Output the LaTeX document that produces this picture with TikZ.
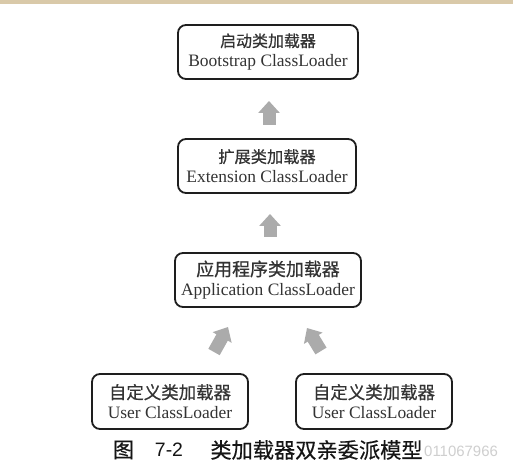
\documentclass[tikz,border=0pt]{standalone}
\usepackage{fontspec}
\setmainfont{Liberation Serif}
\newfontfamily\cjk[FakeBold=0.6]{Noto Sans CJK SC}
\newfontfamily\cjkcap[FakeBold=0.4]{Noto Sans CJK SC}
\newfontfamily\capsans{Liberation Sans}
\usetikzlibrary{arrows.meta,calc}
\definecolor{boxline}{HTML}{1E1E1E}
\definecolor{boxtext}{HTML}{333333}
\definecolor{arrowgray}{HTML}{ABABAB}
\definecolor{band}{HTML}{D9C9A9}
\definecolor{wmark}{HTML}{CFCFCF}
\definecolor{captext}{HTML}{151515}
\begin{document}
\begin{tikzpicture}[x=1bp,y=-1bp,
  loader/.style={draw=boxline, line width=1.8bp, rounded corners=8bp, text=boxtext,
    align=center, inner sep=0pt, font=\fontsize{17.5}{20}\selectfont},
  blockarrow/.style={draw=arrowgray, line width=13bp, -{Triangle[width=21bp,length=12bp]}},
  captionpart/.style={inner sep=0pt, text=captext, anchor=center}]
\useasboundingbox (0,0) rectangle (513,470);
\fill[white] (0,0) rectangle (513,470);
\fill[band] (0,0) rectangle (513,4);

\node[loader, minimum width=180bp, minimum height=54bp] (boot) at (268,52)
  {{\cjk\fontsize{16}{20}\selectfont 启动类加载器}\\Bootstrap ClassLoader};
\node[loader, minimum width=178bp, minimum height=54bp] (ext) at (267,166)
  {{\cjk\fontsize{16.3}{20}\selectfont 扩展类加载器}\\Extension ClassLoader};
\node[loader, minimum width=186bp, minimum height=54bp] (app) at (268,280)
  {{\cjk\fontsize{18}{20}\selectfont 应用程序类加载器}\\Application ClassLoader};
\node[loader, minimum width=156bp, minimum height=55bp] (user1) at (170,401.5)
  {{\cjk\fontsize{17.5}{20}\selectfont 自定义类加载器}\\User ClassLoader};
\node[loader, minimum width=156bp, minimum height=55bp] (user2) at (374,401.5)
  {{\cjk\fontsize{17.5}{20}\selectfont 自定义类加载器}\\User ClassLoader};

\coordinate (u1s) at (269,125);
\coordinate (u1e) at (269,101);
\coordinate (u2s) at (270,237);
\coordinate (u2e) at (270,214);
\coordinate (d1s) at (214,352);
\coordinate (d1e) at (228,327);
\coordinate (d2s) at (321,351);
\coordinate (d2e) at (307,328);
\draw[blockarrow] (u1s) -- (u1e);
\draw[blockarrow] (u2s) -- (u2e);
\draw[blockarrow] (d1s) -- (d1e);
\draw[blockarrow] (d2s) -- (d2e);

\node[captionpart, font=\cjkcap\fontsize{21.3}{24}\selectfont] (fig) at (123.5,450) {图};
\node[captionpart, font=\capsans\fontsize{19.5}{24}\selectfont] (num) at (169,450) {7-2};
\node[captionpart, font=\cjkcap\fontsize{21.3}{24}\selectfont] (title) at (316.5,450) {类加载器双亲委派模型};
\node[inner sep=0pt, anchor=west, text=wmark, font=\capsans\fontsize{15}{18}\selectfont] (wm) at (424,451) {011067966};
\end{tikzpicture}
\end{document}
